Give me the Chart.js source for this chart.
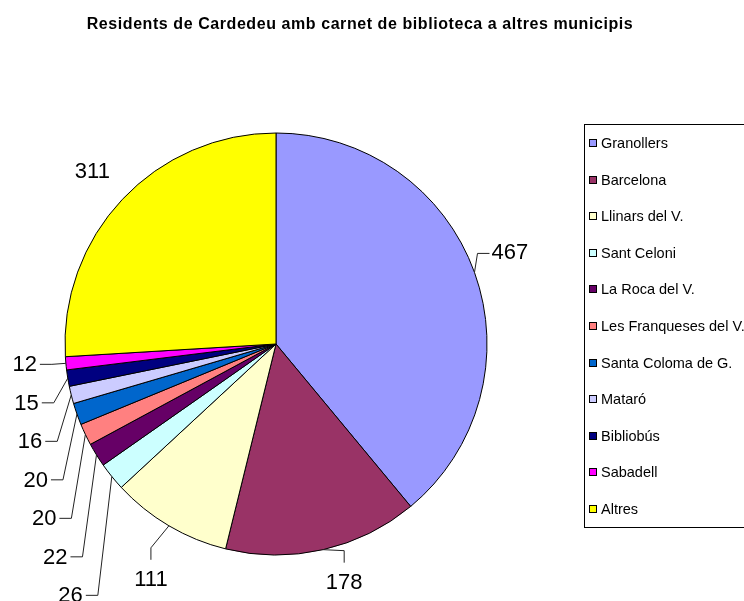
<!DOCTYPE html>
<html>
<head>
<meta charset="utf-8">
<title>Residents de Cardedeu amb carnet de biblioteca a altres municipis</title>
<script src="https://cdn.jsdelivr.net/npm/chart.js@4.4.0/dist/chart.umd.min.js"></script>
<style>
  html, body { margin: 0; padding: 0; background: #fff; }
  canvas { display: block; }
</style>
</head>
<body>
<canvas id="chart" width="744" height="601"></canvas>
<script>
const chartTitle = 'Residents de Cardedeu amb carnet de biblioteca a altres municipis';
const municipis = ['Granollers', 'Barcelona', 'Llinars del V.', 'Sant Celoni', 'La Roca del V.',
  'Les Franqueses del V.', 'Santa Coloma de G.', 'Mataró', 'Bibliobús', 'Sabadell', 'Altres'];
const residents = [467, 178, 111, 26, 22, 20, 20, 16, 15, 12, 311];
const colors = ['#9999FF', '#993366', '#FFFFCC', '#CCFFFF', '#660066', '#FF8080',
  '#0066CC', '#CCCCFF', '#000080', '#FF00FF', '#FFFF00'];

const FONT = "'Liberation Sans', Arial, sans-serif";

// how each value label hangs off its slice (offsets from the slice's outer midpoint)
const labelLayout = [
  { kind: 'right', dx: 3, dy: -19 },
  { kind: 'down', dx: 21, dy: 1, textDy: 33 },
  { kind: 'down', dx: -18, dy: 22, textDy: 54 },
  { kind: 'stack' }, { kind: 'stack' }, { kind: 'stack' }, { kind: 'stack' },
  { kind: 'stack' }, { kind: 'stack' }, { kind: 'stack' },
  { kind: 'free', dx: -30, dy: -27 }
];

function anchorOf(arc) {
  const p = arc.getProps(['x', 'y', 'startAngle', 'endAngle', 'outerRadius'], true);
  const mid = (p.startAngle + p.endAngle) / 2;
  return { x: p.x + p.outerRadius * Math.cos(mid), y: p.y + p.outerRadius * Math.sin(mid) };
}

const sliceLabels = {
  id: 'sliceLabels',
  afterDatasetsDraw(chart) {
    const ctx = chart.ctx;
    const arcs = chart.getDatasetMeta(0).data;
    const values = chart.data.datasets[0].data;
    const lastStack = labelLayout.map(l => l.kind).lastIndexOf('stack');
    const stackBase = anchorOf(arcs[lastStack]).y + 1;
    ctx.save();
    ctx.font = '22px ' + FONT;
    ctx.fillStyle = '#000';
    ctx.strokeStyle = '#222';
    ctx.lineWidth = 1;
    arcs.forEach((arc, i) => {
      const a = anchorOf(arc);
      const lay = labelLayout[i];
      const txt = String(values[i]);
      ctx.textBaseline = 'middle';
      if (lay.kind === 'right') {
        const ex = a.x + lay.dx, ey = a.y + lay.dy;
        ctx.beginPath();
        ctx.moveTo(a.x, a.y); ctx.lineTo(ex, ey); ctx.lineTo(ex + 12, ey);
        ctx.stroke();
        ctx.textAlign = 'left';
        ctx.fillText(txt, ex + 14, ey);
      } else if (lay.kind === 'down') {
        const ex = a.x + lay.dx, ey = a.y + lay.dy;
        ctx.beginPath();
        ctx.moveTo(a.x, a.y); ctx.lineTo(ex, ey); ctx.lineTo(ex, ey + 12);
        ctx.stroke();
        ctx.textAlign = 'center';
        ctx.fillText(txt, ex, a.y + lay.textDy);
      } else if (lay.kind === 'free') {
        ctx.textAlign = 'center';
        ctx.fillText(txt, a.x + lay.dx, a.y + lay.dy);
      } else {
        const k = lastStack - i;
        const ly = stackBase + k * 38.5;
        const segEnd = a.x - 14;
        ctx.beginPath();
        ctx.moveTo(a.x, a.y); ctx.lineTo(segEnd, ly); ctx.lineTo(segEnd - 12, ly);
        ctx.stroke();
        ctx.textAlign = 'right';
        ctx.fillText(txt, segEnd - 15, ly + 1);
      }
    });
    ctx.restore();
  }
};

const frame = {
  id: 'frame',
  afterDraw(chart) {
    const ctx = chart.ctx;
    ctx.save();
    // title
    ctx.font = 'bold 16px ' + FONT;
    ctx.letterSpacing = '0.57px';
    ctx.fillStyle = '#000';
    ctx.textAlign = 'center';
    ctx.textBaseline = 'middle';
    ctx.fillText(chartTitle, 360, 25);
    ctx.letterSpacing = '0px';
    // legend box
    ctx.strokeStyle = '#000';
    ctx.lineWidth = 1;
    ctx.strokeRect(584.5, 124.5, 200, 403);
    ctx.font = '14.5px ' + FONT;
    ctx.textAlign = 'left';
    municipis.forEach((name, i) => {
      const cy = Math.round(143 + i * 36.6);
      ctx.fillStyle = colors[i];
      ctx.fillRect(589, cy - 4, 8, 8);
      ctx.strokeRect(589.5, cy - 3.5, 7, 7);
      ctx.fillStyle = '#000';
      ctx.fillText(name, 601, cy + 1);
    });
    ctx.restore();
  }
};

new Chart(document.getElementById('chart').getContext('2d'), {
  type: 'pie',
  data: {
    labels: municipis,
    datasets: [{
      data: residents,
      backgroundColor: colors,
      borderColor: '#000',
      borderWidth: 1,
      radius: 211,
      hoverOffset: 0
    }]
  },
  options: {
    responsive: false,
    animation: false,
    events: [],
    layout: { padding: { left: 50, right: 242, top: 120, bottom: 33 } },
    plugins: {
      legend: { display: false },
      title: { display: false },
      tooltip: { enabled: false }
    }
  },
  plugins: [sliceLabels, frame]
});
</script>
</body>
</html>
